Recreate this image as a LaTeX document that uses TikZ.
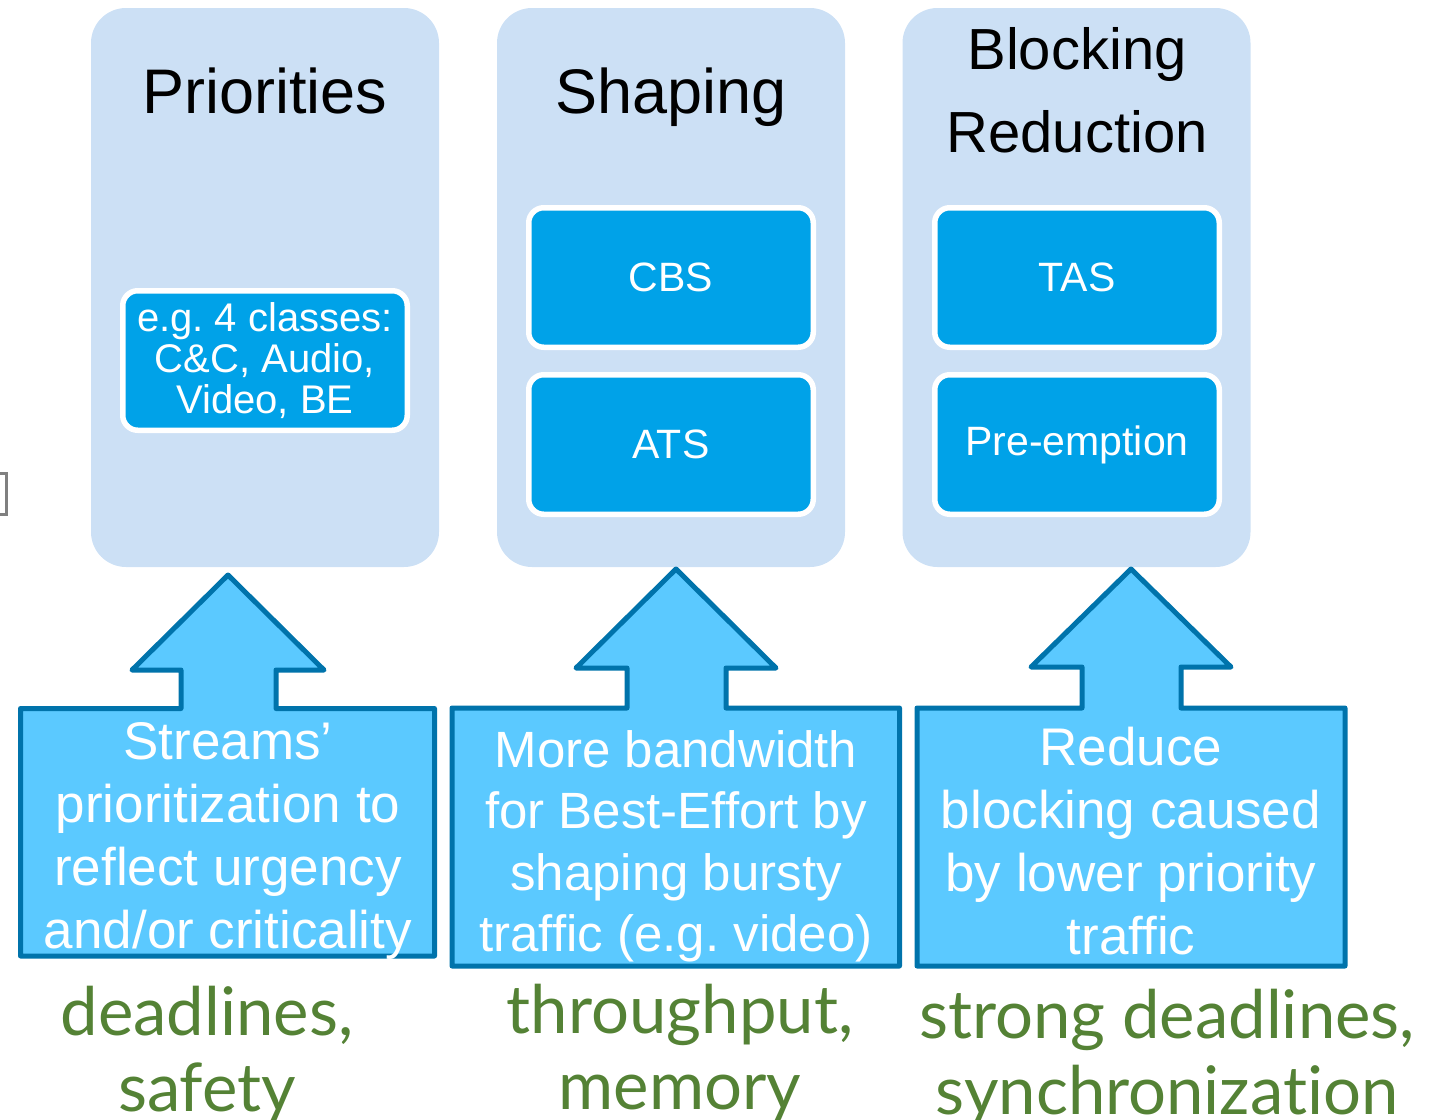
\documentclass[tikz,border=0pt]{standalone}
\usepackage{fontspec}
\setmainfont[Ligatures=NoCommon]{Liberation Sans}
\newfontfamily\greenfont[Ligatures=NoCommon]{Lato}
\definecolor{panelbg}{HTML}{CCE0F5}
\definecolor{innerblue}{HTML}{00A2E8}
\definecolor{arrowfill}{HTML}{5BC9FF}
\definecolor{arrowline}{HTML}{0073AB}
\definecolor{tgreen}{HTML}{548235}
\definecolor{edgegray}{HTML}{808080}
\frenchspacing
\begin{document}
\begin{tikzpicture}[x=1pt,y=-1pt,
  panel/.style={fill=panelbg, rounded corners=35pt, inner sep=0pt, minimum width=348pt, minimum height=559pt},
  title/.style={font=\fontsize{63}{76}\selectfont, text=black, inner sep=0pt, align=center},
  innerbox/.style={fill=innerblue, draw=white, line width=5.5pt, rounded corners=15pt, inner sep=0pt,
     minimum width=284.5pt, minimum height=139.5pt, text=white, align=center, font=\fontsize{40}{41}\selectfont},
  upbox/.style={fill=arrowfill, draw=arrowline, line width=5pt, line join=round},
  boxtext/.style={text=white, align=center, inner sep=0pt, font=\fontsize{53}{63}\selectfont},
  gtext/.style={text=tgreen, align=center, inner sep=0pt, font=\greenfont\fontsize{67}{76}\selectfont}
]
\useasboundingbox (0,0) rectangle (1440,1119);
\clip (0,0) rectangle (1440,1119);

% left edge fragment
\draw[edgegray, line width=3pt] (-10,473) rectangle (6,514);

% panels
\node[panel] (p1) at (265,287.5) {};
\node[panel] (p2) at (671,287.5) {};
\node[panel] (p3) at (1076.5,287.5) {};

% titles
\node[title, anchor=base] (t1) at (265,113) {Priorities};
\node[title, anchor=base] (t2) at (671,113) {Shaping};
\node[title, font=\fontsize{58}{83}\selectfont] (t3) at (1077,90.5) {Blocking\\Reduction};

% inner boxes
\node[innerbox] (i1) at (265,360.5) {e.g. 4 classes:\\C\&C, Audio,\\Video, BE};
\node[innerbox, font=\fontsize{41}{41}\selectfont] (cbs) at (671,277.5) {CBS};
\node[innerbox, font=\fontsize{41}{41}\selectfont] (ats) at (671,444.5) {ATS};
\node[innerbox, font=\fontsize{41}{41}\selectfont] (tas) at (1077,277.5) {TAS};
\node[innerbox, font=\fontsize{41}{41}\selectfont] (pre) at (1077,444.5) {Pre-emption};

% up-arrow boxes
\draw[upbox] (20.5,956) -- (20.5,708.5) -- (181,708.5) -- (181,670) -- (132,670) -- (228,575)
  -- (324,670) -- (276,670) -- (276,708.5) -- (434.5,708.5) -- (434.5,956) -- cycle;
\draw[upbox] (452,966) -- (452,708) -- (627,708) -- (627,668) -- (576,668) -- (676,569)
  -- (776,668) -- (726,668) -- (726,708) -- (899.5,708) -- (899.5,966) -- cycle;
\draw[upbox] (917,966) -- (917,708) -- (1082,708) -- (1082,667) -- (1031,667) -- (1131,569)
  -- (1231,667) -- (1181,667) -- (1181,708) -- (1345,708) -- (1345,966) -- cycle;

\node[boxtext] (b1) at (228,841) {Streams’\\prioritization to\\reflect urgency\\and/or criticality};
\node[boxtext, font=\fontsize{51}{61.5}\selectfont] (b2) at (676,846.5) {More bandwidth\\for Best-Effort by\\shaping bursty\\traffic (e.g. video)};
\node[boxtext] (b3) at (1131,841) {Reduce\\blocking caused\\by lower priority\\traffic};

% green notes
\node[gtext] (g1) at (207,1055) {deadlines,\\safety};
\node[gtext] (g2) at (680,1053) {throughput,\\memory};
\node[gtext] (g3) at (1167,1058) {strong deadlines,\\synchronization};
\end{tikzpicture}
\end{document}
